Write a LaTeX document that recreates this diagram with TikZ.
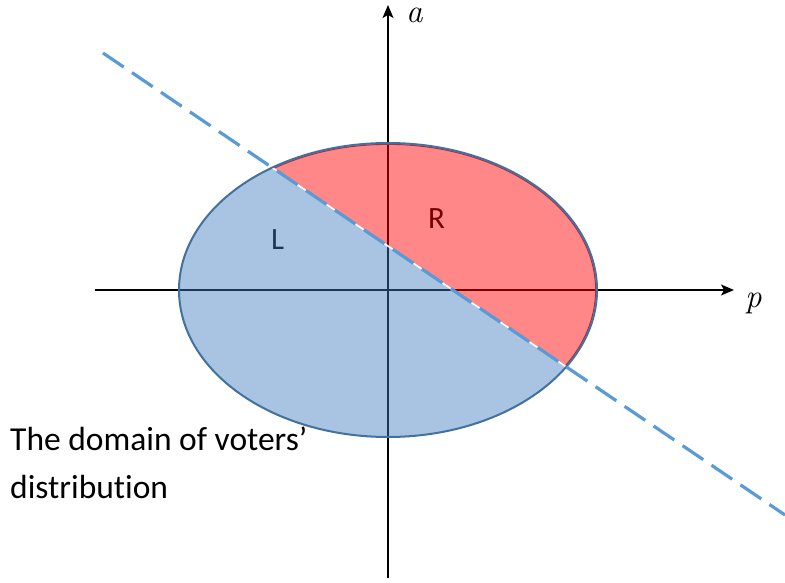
\documentclass[tikz,border=0pt]{standalone}
\usepackage{fontspec}
\setmainfont{Carlito}[Ligatures=NoCommon]
\newfontfamily\axfont{Latin Modern Roman}
\usetikzlibrary{arrows.meta}
\definecolor{fillblue}{RGB}{64,124,191}
\definecolor{edgeblue}{RGB}{65,113,156}
\definecolor{dashblue}{RGB}{91,155,213}
\definecolor{fillred}{RGB}{255,0,0}
\definecolor{edgered}{RGB}{165,45,70}
\begin{document}
\begin{tikzpicture}[x=1pt,y=-1pt,
  axis/.style={line width=1.3pt,-{Stealth[length=13pt,width=11pt,inset=3pt]}},
  lbl/.style={font=\fontsize{31}{38}\selectfont, inner sep=0pt, anchor=base west},
  mathlbl/.style={font=\fontsize{33}{40}\selectfont\axfont\itshape, inner sep=0pt, anchor=base west},
  divider/.style={dashblue, line width=3.2pt, dash pattern=on 25pt off 10pt}]
\useasboundingbox (0,0) rectangle (785,583);
\coordinate (O) at (388,290);
\coordinate (xs) at (95,290);
\coordinate (xe) at (734,290);
\coordinate (ys) at (388,578);
\coordinate (ye) at (388,5);
\coordinate (d0) at (0,-16.8);
\coordinate (d1) at (103,53);
\coordinate (d2) at (785,515);
% axes
\draw[axis] (xs) -- (xe);
\draw[axis] (ys) -- (ye);
\node[mathlbl] (alab) at (406,23) {a};
\node[mathlbl] (plab) at (745,307) {p};
% region labels (under translucent fills)
\node[lbl] (L) at (271,249) {L};
\node[lbl] (R) at (428,229) {R};
% blue part
\begin{scope}
  \clip (d0) -- (d2) -- (785,583) -- (0,583) -- cycle;
  \fill[fillblue, opacity=0.45] (O) ellipse [x radius=209pt, y radius=147pt];
\end{scope}
% red part
\begin{scope}
  \clip (d0) -- (d2) -- (785,-20) -- (0,-20) -- cycle;
  \fill[fillred, opacity=0.47] (O) ellipse [x radius=209pt, y radius=147pt];
  \draw[edgered, line width=1pt] (O) ellipse [x radius=207.6pt, y radius=145.6pt];
\end{scope}
% ellipse outline
\draw[edgeblue, line width=2pt] (O) ellipse [x radius=209pt, y radius=147pt];
% white chord
\begin{scope}
  \clip (O) ellipse [x radius=208pt, y radius=146pt];
  \draw[white, line width=1.6pt] (d1) -- (d2);
\end{scope}
% dividing line
\draw[divider] (d1) -- (d2);
% caption
\node[font=\fontsize{33.5}{48}\selectfont, inner sep=0pt, anchor=base west, align=left] (dom) at (10,498) {The domain of voters’\\distribution};
\end{tikzpicture}
\end{document}
